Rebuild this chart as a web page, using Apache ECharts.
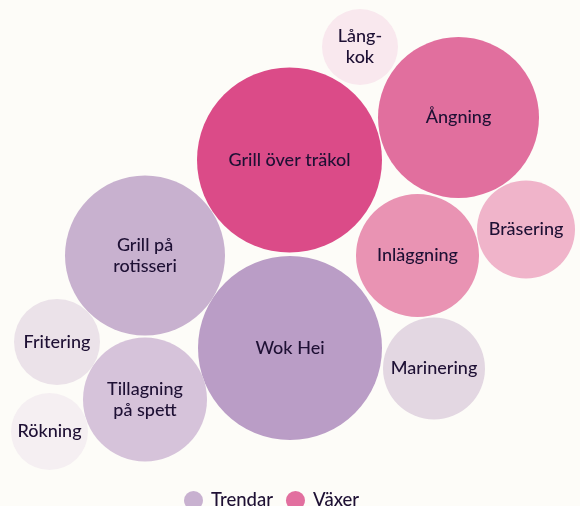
<!DOCTYPE html>
<html>
<head>
<meta charset="utf-8">
<script src="https://cdn.jsdelivr.net/npm/echarts@6/dist/echarts.min.js"></script>
<style>
html,body{margin:0;padding:0;background:#FDFCF8;}
#c{width:580px;height:506px;}
</style>
</head>
<body>
<div id="c"></div>
<script>
// Categories (labels) per group
const trendNames = ['Wok Hei', 'Grill på\nrotisseri', 'Tillagning\npå spett', 'Marinering', 'Fritering', 'Rökning'];
const trendX     = [290, 145, 145, 434, 57, 49.5];
const trendY     = [348, 255.5, 399.5, 368.5, 342, 431.5];
const trendSize  = [92, 80, 62, 51, 43, 38.5];
const trendColors = ['#BA9DC6', '#C8B1CF', '#D6C3DA', '#E3D7E2', '#EBE2E9', '#F5EFF2'];

const growNames = ['Grill över träkol', 'Ångning', 'Inläggning', 'Bräsering', 'Lång-\nkok'];
const growX     = [289.5, 458.5, 417.5, 526, 360];
const growY     = [160, 117.5, 255.5, 229.5, 47];
const growSize  = [92.5, 80.5, 61.5, 49, 38];
const growColors = ['#DB4B88', '#E16F9E', '#E993B3', '#F0B4CA', '#F9E8EE'];

const seriesNames = ['Trendar', 'Växer'];
const seriesColors = ['#BA9DC6', '#DB4B88'];

function build(names, xs, ys, sizes, colors) {
  return names.map((n, i) => ({
    name: n,
    value: [xs[i], ys[i], sizes[i]],
    itemStyle: { color: colors[i], opacity: 1 }
  }));
}

const labelStyle = {
  show: true,
  position: 'inside',
  formatter: p => p.name,
  color: '#1E1034',
  fontFamily: 'Lato',
  fontWeight: 500,
  fontSize: 18,
  lineHeight: 21
};

const chart = echarts.init(document.getElementById('c'), null, {renderer: 'canvas'});
chart.setOption({
  backgroundColor: '#FDFCF8',
  animation: false,
  grid: { left: 0, right: 0, top: 0, bottom: 0 },
  xAxis: { type: 'value', min: 0, max: 580, show: false },
  yAxis: { type: 'value', min: 0, max: 506, inverse: true, show: false },
  legend: {
    data: seriesNames,
    left: 179,
    top: 486,
    icon: 'circle',
    itemWidth: 19,
    itemHeight: 19,
    itemGap: 13,
    textStyle: { color: '#1E1034', fontFamily: 'Lato', fontWeight: 500, fontSize: 18.5, padding: [0, 0, 0, 3] }
  },
  series: [
    {
      name: seriesNames[0],
      type: 'scatter',
      color: seriesColors[0],
      symbolSize: v => v[2] * 2,
      data: build(trendNames, trendX, trendY, trendSize, trendColors),
      label: labelStyle,
      emphasis: { disabled: true }
    },
    {
      name: seriesNames[1],
      type: 'scatter',
      color: seriesColors[1],
      symbolSize: v => v[2] * 2,
      data: build(growNames, growX, growY, growSize, growColors),
      label: labelStyle,
      emphasis: { disabled: true }
    }
  ]
});
</script>
</body>
</html>
